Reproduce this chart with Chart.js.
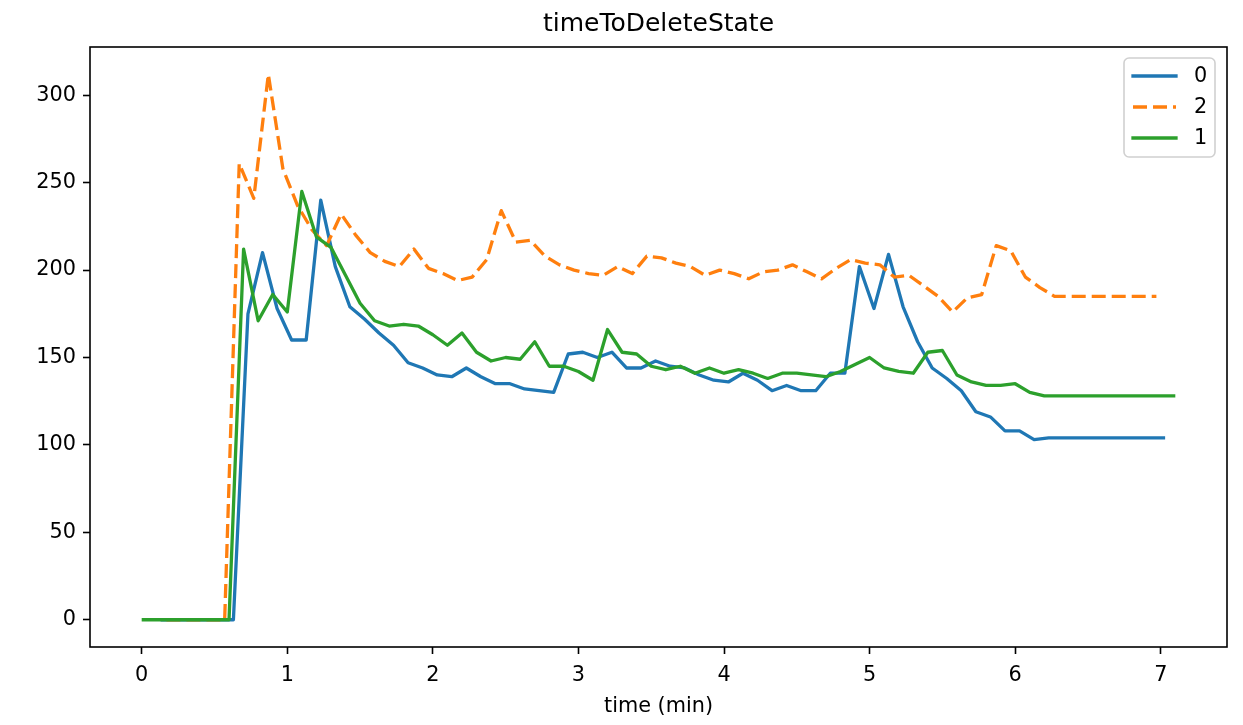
<!DOCTYPE html>
<html>
<head>
<meta charset="utf-8">
<title>timeToDeleteState</title>
<script src="https://cdn.jsdelivr.net/npm/chart.js@4.4.1/dist/chart.umd.min.js"></script>
<style>
  html, body { margin: 0; padding: 0; background: #fff; }
  #wrap { width: 1243px; height: 725px; position: relative; }
</style>
</head>
<body>
<div id="wrap"><canvas id="chart"></canvas></div>
<script>
// series "0"
const times0 = [0.13, 0.23, 0.33, 0.43, 0.53, 0.63, 0.73, 0.83, 0.93, 1.03,
  1.13, 1.23, 1.33, 1.43, 1.53, 1.63, 1.73, 1.83, 1.93, 2.03,
  2.13, 2.23, 2.33, 2.43, 2.53, 2.63, 2.73, 2.83, 2.93, 3.03,
  3.13, 3.23, 3.33, 3.43, 3.53, 3.63, 3.73, 3.83, 3.93, 4.03,
  4.13, 4.23, 4.33, 4.43, 4.53, 4.63, 4.73, 4.83, 4.93, 5.03,
  5.13, 5.23, 5.33, 5.43, 5.53, 5.63, 5.73, 5.83, 5.93, 6.03,
  6.13, 6.23, 6.33, 6.43, 6.53, 6.63, 6.73, 6.83, 6.93, 7.03];
const values0 = [0, 0, 0, 0, 0, 0, 175, 210, 178, 160,
  160, 240, 202, 179, 172, 164, 157, 147, 144, 140,
  139, 144, 139, 135, 135, 132, 131, 130, 152, 153,
  150, 153, 144, 144, 148, 145, 144, 140, 137, 136,
  141, 137, 131, 134, 131, 131, 141, 141, 202, 178,
  209, 179, 159, 144, 138, 131, 119, 116, 108, 108,
  103, 104, 104, 104, 104, 104, 104, 104, 104, 104];

// series "2"
const times2 = [0.17, 0.27, 0.37, 0.47, 0.57, 0.67, 0.77, 0.87, 0.97, 1.07,
  1.17, 1.27, 1.37, 1.47, 1.57, 1.67, 1.77, 1.87, 1.97, 2.07,
  2.17, 2.27, 2.37, 2.47, 2.57, 2.67, 2.77, 2.87, 2.97, 3.07,
  3.17, 3.27, 3.37, 3.47, 3.57, 3.67, 3.77, 3.87, 3.97, 4.07,
  4.17, 4.27, 4.37, 4.47, 4.57, 4.67, 4.77, 4.87, 4.97, 5.07,
  5.17, 5.27, 5.37, 5.47, 5.57, 5.67, 5.77, 5.87, 5.97, 6.07,
  6.17, 6.27, 6.37, 6.47, 6.57, 6.67, 6.77, 6.87, 6.97];
const values2 = [0, 0, 0, 0, 0, 261, 241, 312, 258, 237,
  223, 214, 232, 220, 210, 205, 202, 212, 201, 198,
  194, 196, 206, 234, 216, 217, 208, 203, 200, 198,
  197, 202, 198, 208, 207, 204, 202, 197, 200, 198,
  195, 199, 200, 203, 199, 195, 201, 206, 204, 203,
  196, 197, 191, 185, 176, 184, 186, 214, 211, 196,
  190, 185, 185, 185, 185, 185, 185, 185, 185];

// series "1"
const times1 = [0.0, 0.1, 0.2, 0.3, 0.4, 0.5, 0.6, 0.7, 0.8, 0.9,
  1.0, 1.1, 1.2, 1.3, 1.4, 1.5, 1.6, 1.7, 1.8, 1.9,
  2.0, 2.1, 2.2, 2.3, 2.4, 2.5, 2.6, 2.7, 2.8, 2.9,
  3.0, 3.1, 3.2, 3.3, 3.4, 3.5, 3.6, 3.7, 3.8, 3.9,
  4.0, 4.1, 4.2, 4.3, 4.4, 4.5, 4.6, 4.7, 4.8, 4.9,
  5.0, 5.1, 5.2, 5.3, 5.4, 5.5, 5.6, 5.7, 5.8, 5.9,
  6.0, 6.1, 6.2, 6.3, 6.4, 6.5, 6.6, 6.7, 6.8, 6.9,
  7.0, 7.1];
const values1 = [0, 0, 0, 0, 0, 0, 0, 212, 171, 186,
  176, 245, 219, 213, 197, 181, 171, 168, 169, 168,
  163, 157, 164, 153, 148, 150, 149, 159, 145, 145,
  142, 137, 166, 153, 152, 145, 143, 145, 141, 144,
  141, 143, 141, 138, 141, 141, 140, 139, 142, 146,
  150, 144, 142, 141, 153, 154, 140, 136, 134, 134,
  135, 130, 128, 128, 128, 128, 128, 128, 128, 128,
  128, 128];

const xTicks = [0, 1, 2, 3, 4, 5, 6, 7];
const yTicks = [0, 50, 100, 150, 200, 250, 300];

const FONT = "'DejaVu Sans', sans-serif";

function toPoints(xs, ys) {
    return xs.map((x, i) => ({ x: x, y: ys[i] }));
}

// cadre, titre, légende (dans le style matplotlib)
const decorations = {
    id: 'decorations',
    afterDatasetsDraw(chart) {
        const a = chart.chartArea;
        const ctx = chart.ctx;
        ctx.save();
        ctx.strokeStyle = '#000';
        ctx.lineWidth = 1.6;
        ctx.strokeRect(a.left, a.top, a.right - a.left, a.bottom - a.top);
        ctx.restore();
    },
    afterDraw(chart) {
        const a = chart.chartArea;
        const ctx = chart.ctx;
        ctx.save();
        ctx.fillStyle = '#000';
        ctx.textAlign = 'center';
        ctx.textBaseline = 'alphabetic';
        ctx.font = '25px ' + FONT;
        ctx.fillText('timeToDeleteState', (a.left + a.right) / 2, a.top - 16);
        ctx.font = '20.8px ' + FONT;
        ctx.textBaseline = 'middle';
        ctx.fillText('time (min)', (a.left + a.right) / 2, 707);

        // légende
        const bx = 1124, by = 58, bw = 91, bh = 99, r = 5;
        ctx.beginPath();
        ctx.moveTo(bx + r, by);
        ctx.arcTo(bx + bw, by, bx + bw, by + bh, r);
        ctx.arcTo(bx + bw, by + bh, bx, by + bh, r);
        ctx.arcTo(bx, by + bh, bx, by, r);
        ctx.arcTo(bx, by, bx + bw, by, r);
        ctx.closePath();
        ctx.fillStyle = 'rgba(255,255,255,0.8)';
        ctx.fill();
        ctx.strokeStyle = '#d0d0d0';
        ctx.lineWidth = 1.6;
        ctx.stroke();

        chart.data.datasets.forEach((ds, i) => {
            const y = 76 + i * 31;
            ctx.beginPath();
            ctx.setLineDash(ds.borderDash || []);
            ctx.strokeStyle = ds.borderColor;
            ctx.lineWidth = ds.borderWidth;
            ctx.lineCap = ds.borderDash ? 'butt' : 'square';
            ctx.moveTo(1133, y);
            ctx.lineTo(1176, y);
            ctx.stroke();
            ctx.setLineDash([]);
            ctx.fillStyle = '#000';
            ctx.textAlign = 'left';
            ctx.textBaseline = 'middle';
            ctx.font = '20.8px ' + FONT;
            ctx.fillText(ds.label, 1194, y + 1);
        });
        ctx.restore();
    }
};

const ctx = document.getElementById('chart').getContext('2d');
new Chart(ctx, {
    type: 'line',
    data: {
        datasets: [
            {
                label: '0',
                data: toPoints(times0, values0),
                borderColor: '#1f77b4',
                borderWidth: 3.3,
                order: 3
            },
            {
                label: '2',
                data: toPoints(times2, values2),
                borderColor: '#ff7f0e',
                borderWidth: 3.3,
                borderDash: [14, 6],
                order: 2
            },
            {
                label: '1',
                data: toPoints(times1, values1),
                borderColor: '#2ca02c',
                borderWidth: 3.3,
                order: 1
            }
        ]
    },
    options: {
        responsive: true,
        maintainAspectRatio: false,
        animation: false,
        devicePixelRatio: 1,
        elements: {
            point: { radius: 0, hoverRadius: 0 },
            line: { tension: 0, borderJoinStyle: 'round', fill: false }
        },
        layout: { padding: { top: 47, right: 16, left: 0, bottom: 0 } },
        plugins: {
            legend: { display: false },
            title: { display: false },
            tooltip: { enabled: false }
        },
        scales: {
            x: {
                type: 'linear',
                min: -0.355,
                max: 7.455,
                border: { display: false },
                grid: {
                    drawOnChartArea: false,
                    drawTicks: true,
                    tickLength: 7,
                    tickWidth: 1.6,
                    tickColor: '#000'
                },
                ticks: {
                    color: '#000',
                    font: { family: FONT, size: 20.8 },
                    padding: 9,
                    maxRotation: 0,
                    includeBounds: false
                },
                afterBuildTicks: function(scale) {
                    scale.ticks = xTicks.map(v => ({ value: v }));
                },
                afterFit: function(scale) { scale.height = 78; }
            },
            y: {
                type: 'linear',
                min: -15.6,
                max: 327.6,
                border: { display: false },
                grid: {
                    drawOnChartArea: false,
                    drawTicks: true,
                    tickLength: 7,
                    tickWidth: 1.6,
                    tickColor: '#000'
                },
                ticks: {
                    color: '#000',
                    font: { family: FONT, size: 20.8 },
                    padding: 7,
                    includeBounds: false
                },
                afterBuildTicks: function(scale) {
                    scale.ticks = yTicks.map(v => ({ value: v }));
                },
                afterFit: function(scale) { scale.width = 90; }
            }
        }
    },
    plugins: [decorations]
});
</script>
</body>
</html>
